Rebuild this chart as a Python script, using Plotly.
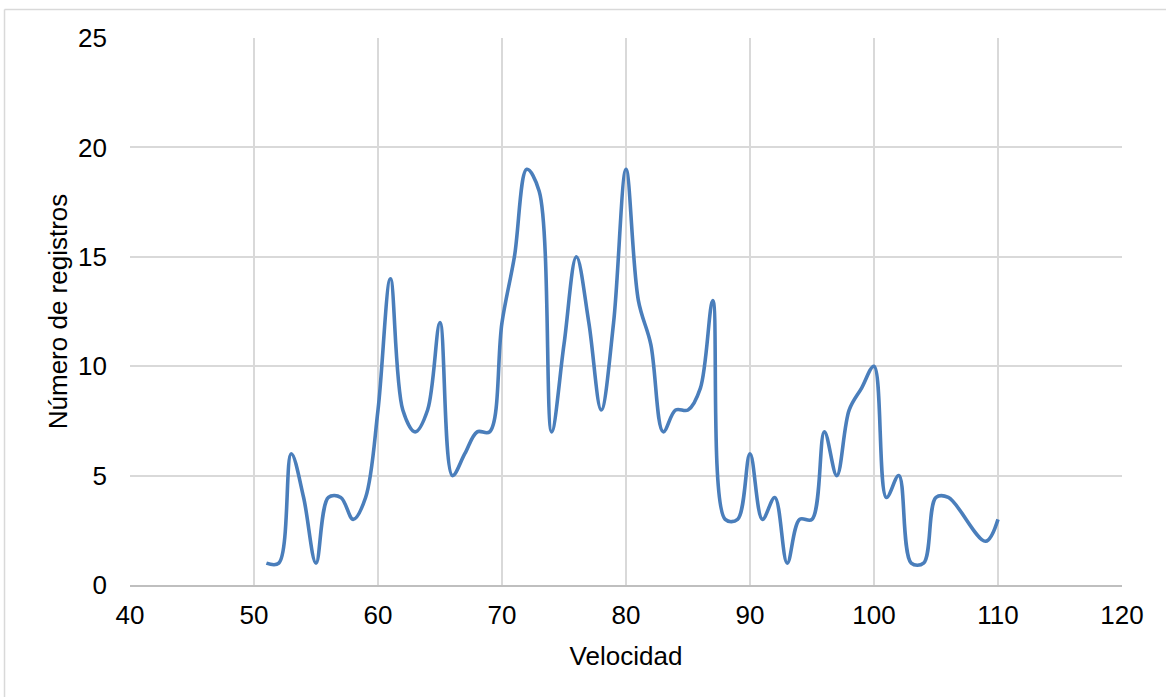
import plotly.graph_objects as go

# Speed values (km/h) and number of records observed at each speed
velocidad = [51, 52, 53, 54, 55, 56, 57, 58, 59, 60,
             61, 62, 63, 64, 65, 66, 67, 68, 69, 70,
             71, 72, 73, 74, 75, 76, 77, 78, 79, 80,
             81, 82, 83, 84, 85, 86, 87, 88, 89, 90,
             91, 92, 93, 94, 95, 96, 97, 98, 99, 100,
             101, 102, 103, 104, 105, 106, 109, 110]
registros = [1, 1, 6, 4, 1, 4, 4, 3, 4, 8,
             14, 8, 7, 8, 12, 5, 6, 7, 7, 12,
             15, 19, 18, 7, 11, 15, 12, 8, 12, 19,
             13, 11, 7, 8, 8, 9, 13, 3, 3, 6,
             3, 4, 1, 3, 3, 7, 5, 8, 9, 10,
             4, 5, 1, 1, 4, 4, 2, 3]

x_ticks = [40, 50, 60, 70, 80, 90, 100, 110, 120]
y_ticks = [0, 5, 10, 15, 20, 25]

LINE_COLOR = "#4A7EBB"
GRID_COLOR = "#D9D9D9"
FONT = "Liberation Sans, Arial, sans-serif"

fig = go.Figure()
fig.add_trace(go.Scatter(
    x=velocidad, y=registros, mode="lines",
    line=dict(color=LINE_COLOR, width=3.6, shape="spline", smoothing=1.0),
    showlegend=False, hoverinfo="x+y",
))

fig.update_layout(
    width=1166, height=697,
    margin=dict(l=130, r=44, t=38, b=112),
    paper_bgcolor="white", plot_bgcolor="white",
    font=dict(family=FONT, size=26, color="#000000"),
    xaxis=dict(
        range=[40, 120], tickvals=x_ticks, ticktext=[str(v) for v in x_ticks],
        showgrid=True, gridcolor=GRID_COLOR, gridwidth=1.5,
        showline=True, linecolor="#BFBFBF", linewidth=2,
        zeroline=False, ticks="", ticklabelstandoff=6,
        title=dict(text="Velocidad", font=dict(size=26), standoff=18),
    ),
    yaxis=dict(
        range=[0, 25], tickvals=y_ticks, ticktext=[str(v) for v in y_ticks],
        showgrid=True, gridcolor=GRID_COLOR, gridwidth=1.5,
        showline=False, zeroline=False, ticks="", ticklabelstandoff=22,
        title=dict(text="Número de registros", font=dict(size=26), standoff=2),
    ),
    shapes=[
        # outer chart frame (left and top edges visible on the canvas)
        dict(type="line", xref="paper", yref="paper",
             x0=-0.1265, x1=-0.1265, y0=-0.4, y1=1.0521,
             line=dict(color="#D9D9D9", width=1.5)),
        dict(type="line", xref="paper", yref="paper",
             x0=-0.1265, x1=1.2, y0=1.0521, y1=1.0521,
             line=dict(color="#D9D9D9", width=1.5)),
    ],
)

fig.write_html("out.html")
